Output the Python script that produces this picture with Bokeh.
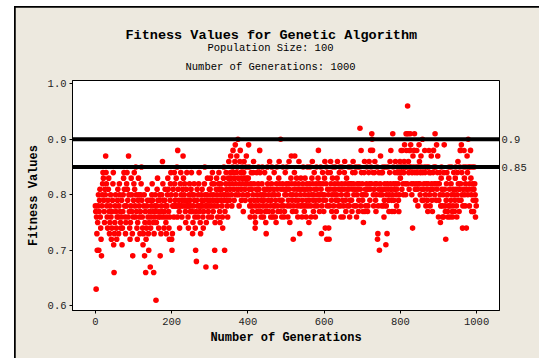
from bokeh.plotting import figure
from bokeh.models import Range1d, Span, Title, LinearAxis, FixedTicker, ColumnDataSource
from bokeh.layouts import column
from bokeh.embed import file_html
from bokeh.resources import INLINE

# Best fitness per generation (in hundredths), blocks of 100 generations
fit_000 = [78,77,63,76,73,70,75,78,80,70, 77,79,81,76,74,72,69,78,80,82,
           84,83,79,77,75,81,80,87,84,82, 78,76,74,79,81,83,77,73,75,78,
           80,76,72,74,77,79,82,84,71,66, 73,75,78,80,77,74,72,76,79,81,
           76,73,78,82,80,77,75,74,76,79, 71,74,77,80,83,84,81,78,76,73,
           75,78,82,84,81,79,76,87,80,77, 74,72,75,78,83,80,77,73,69,76]
fit_100 = [79,82,84,81,78,76,85,80,77,74, 72,75,79,83,80,78,76,73,77,80,
           82,85,79,76,74,71,73,78,80,69, 75,77,66,72,74,78,81,79,76,73,
           70,75,77,79,67,74,76,78,80,82, 79,77,75,66,73,76,78,80,77,61,
           75,78,81,83,79,76,74,77,79,80, 69,76,73,78,80,77,86,82,79,76,
           74,77,79,81,78,75,73,76,78,80, 83,81,77,74,72,76,79,82,84,80]
fit_200 = [72,70,73,78,81,78,76,84,82,79, 78,80,83,78,85,76,88,81,78,79,
           77,74,78,82,84,80,78,76,79,81, 87,83,78,80,82,79,77,75,78,81,
           84,79,78,76,74,78,80,82,79,77, 78,81,84,80,77,73,75,78,80,82,
           79,76,74,70,77,68,79,81,78,76, 80,82,84,78,77,75,73,78,80,79,
           81,78,76,74,77,79,82,85,80,78, 67,75,78,80,83,79,77,76,78,81]
fit_300 = [79,81,83,80,78,76,82,84,79,77, 80,82,78,70,75,67,79,81,83,80,
           78,76,79,82,84,81,77,75,80,82, 79,81,78,76,74,80,83,85,79,70,
           77,80,82,84,81,79,78,76,80,83, 86,82,79,81,84,87,83,80,78,82,
           85,88,84,81,79,83,86,89,82,80, 84,87,85,81,90,83,80,78,82,86,
           88,84,81,79,83,85,82,80,77,84, 86,83,81,79,82,85,87,83,80,82]
fit_400 = [80,83,89,85,81,78,76,79,82,84, 81,78,77,80,84,86,82,79,76,74,
           75,78,81,84,80,77,79,82,85,81, 78,88,84,80,77,76,79,82,85,80,
           78,76,79,81,84,80,77,75,73,78, 81,85,82,79,77,80,83,86,81,78,
           76,79,82,85,80,77,76,78,81,84, 80,78,76,79,75,82,85,81,78,77,
           80,83,86,82,79,77,90,81,78,76, 79,82,85,81,78,76,77,80,84,81]
fit_500 = [80,82,85,81,78,76,79,82,86,81, 75,78,80,83,87,82,79,77,80,72,
           78,81,84,87,82,79,77,80,83,81, 78,76,79,82,86,81,73,78,80,83,
           81,78,76,79,82,85,81,78,77,80, 83,81,78,76,79,82,85,81,78,80,
           75,79,82,85,81,78,76,80,83,86, 82,79,77,80,84,81,78,76,79,82,
           85,81,78,80,83,88,82,79,77,80, 82,85,81,73,78,80,84,82,79,77]
fit_600 = [80,83,86,74,79,82,85,72,78,81, 84,80,74,72,78,81,84,86,82,79,
           77,80,83,85,81,78,76,80,82,85, 81,79,77,80,83,86,82,79,78,81,
           84,85,81,78,76,80,82,85,81,79, 76,78,81,84,86,82,79,77,80,83,
           81,78,80,82,85,81,78,76,79,82, 85,82,79,77,81,84,86,82,80,78,
           81,84,85,81,78,76,80,82,85,81, 77,79,82,85,92,81,78,88,84,80]
fit_700 = [82,79,77,75,80,84,86,77,81,78, 80,82,85,81,77,78,81,84,86,82,
           79,81,88,85,82,91,90,88,84,80, 78,81,84,86,82,79,77,80,82,85,
           72,73,78,81,84,70,80,82,87,84, 81,78,80,84,85,81,78,76,79,82,
           85,81,71,78,80,73,82,85,81,79, 77,80,84,86,82,88,81,79,77,80,
           91,85,82,79,77,81,84,86,82,80, 78,81,84,85,82,79,77,80,84,86]
fit_800 = [83,85,88,84,81,88,85,82,80,84, 86,89,85,82,80,91,88,85,82,96,
           91,86,84,81,85,88,91,89,85,82, 80,84,74,87,82,85,88,91,84,81,
           79,82,85,88,84,81,78,82,85,89, 86,82,80,84,87,85,81,79,90,84,
           81,79,82,85,88,84,80,78,82,85, 81,79,77,82,85,88,84,80,78,81,
           84,87,82,79,77,81,84,88,85,82, 80,91,85,82,79,89,81,84,87,82]
fit_900 = [76,79,82,84,80,75,78,83,85,81, 78,76,80,76,84,89,81,78,77,72,
           79,82,84,80,77,76,78,83,85,81, 78,76,79,82,85,80,77,76,78,81,
           84,80,77,79,83,85,81,78,76,80, 84,86,82,79,77,81,85,88,82,79,
           89,84,80,74,78,81,85,88,83,80, 78,82,85,74,81,87,84,80,90,85,
           81,78,82,85,88,83,80,77,81,85, 82,79,77,81,85,82,80,76,79,78]

reference_levels = [0.85, 0.9]
reference_labels = ["0.85", "0.9"]
x_ticks = [0, 200, 400, 600, 800, 1000]
y_ticks = [0.6, 0.7, 0.8, 0.9, 1.0]

blocks = [fit_000, fit_100, fit_200, fit_300, fit_400,
          fit_500, fit_600, fit_700, fit_800, fit_900]
fitness = [v / 100 for block in blocks for v in block]
generation = list(range(len(fitness)))

MONO = "Liberation Mono"
BG = "#EDE9DF"

p = figure(width=524, height=351, output_backend="svg", toolbar_location=None,
           x_range=Range1d(-60, 1060), y_range=Range1d(0.5915, 1.006),
           min_border_left=57, min_border_right=40,
           min_border_top=73, min_border_bottom=48)

p.background_fill_color = "white"
p.border_fill_color = BG
p.outline_line_color = "black"
p.outline_line_width = 1
p.grid.visible = False

src = ColumnDataSource(dict(x=generation, y=fitness))
p.scatter("x", "y", source=src, size=5.6, fill_color="red", line_color=None)

for lvl in reference_levels:
    p.add_layout(Span(location=lvl, dimension="width", line_color="black",
                      line_width=4))

# Labels of the two reference levels, on an unlined axis at the right
right = LinearAxis(ticker=FixedTicker(ticks=reference_levels),
                   major_label_overrides=dict(zip(reference_levels, reference_labels)),
                   axis_line_color=None, major_tick_line_color=None,
                   minor_tick_line_color=None, major_tick_out=0, major_tick_in=0,
                   major_label_standoff=2, major_label_text_font=MONO,
                   major_label_text_font_size="10.5px",
                   major_label_text_color="#222222")
p.add_layout(right, "right")

for ax in (p.xaxis[0], p.yaxis[0]):
    ax.axis_line_color = "black"
    ax.major_tick_line_color = "black"
    ax.major_tick_out = 3
    ax.major_tick_in = 0
    ax.minor_tick_line_color = None
    ax.major_label_text_font = MONO
    ax.major_label_text_font_size = "10.5px"
    ax.major_label_text_color = "#222222"
    ax.axis_label_text_font = MONO
    ax.axis_label_text_font_style = "bold"
    ax.axis_label_text_font_size = "12px"
    ax.axis_label_text_color = "black"

p.xaxis[0].ticker = FixedTicker(ticks=x_ticks)
p.yaxis[0].ticker = FixedTicker(ticks=y_ticks)
p.yaxis[0].major_label_overrides = {t: f"{t:.1f}" for t in y_ticks}
p.xaxis[0].axis_label = "Number of Generations"
p.yaxis[0].axis_label = "Fitness Values"
p.xaxis[0].major_label_standoff = 4
p.xaxis[0].axis_label_standoff = 3
p.yaxis[0].major_label_standoff = 3
p.yaxis[0].axis_label_standoff = 4

# Title block: added nearest-to-frame first; offsets from the frame's left edge
titles = [("Number of Generations: 1000", "10.5px", "normal", 15, 113),
          ("Population Size: 100", "10.5px", "normal", -5, 135),
          ("Fitness Values for Genetic Algorithm", "13.5px", "bold", 0, 53)]
for text, size, style, standoff, off in titles:
    p.add_layout(Title(text=text, align="left", offset=off, standoff=standoff,
                       text_font=MONO, text_font_size=size,
                       text_font_style=style, text_color="black"), "above")

# Chart panel with a thin black rule on its left and top, set in a white page
inner = column(p, styles={"background-color": "#000000",
                          "padding-left": "1px", "padding-top": "1px"})
layout = column(inner, styles={"background-color": "#ffffff",
                               "padding-left": "14px", "padding-top": "6px"})
open("out.html", "w").write(file_html(layout, INLINE))
